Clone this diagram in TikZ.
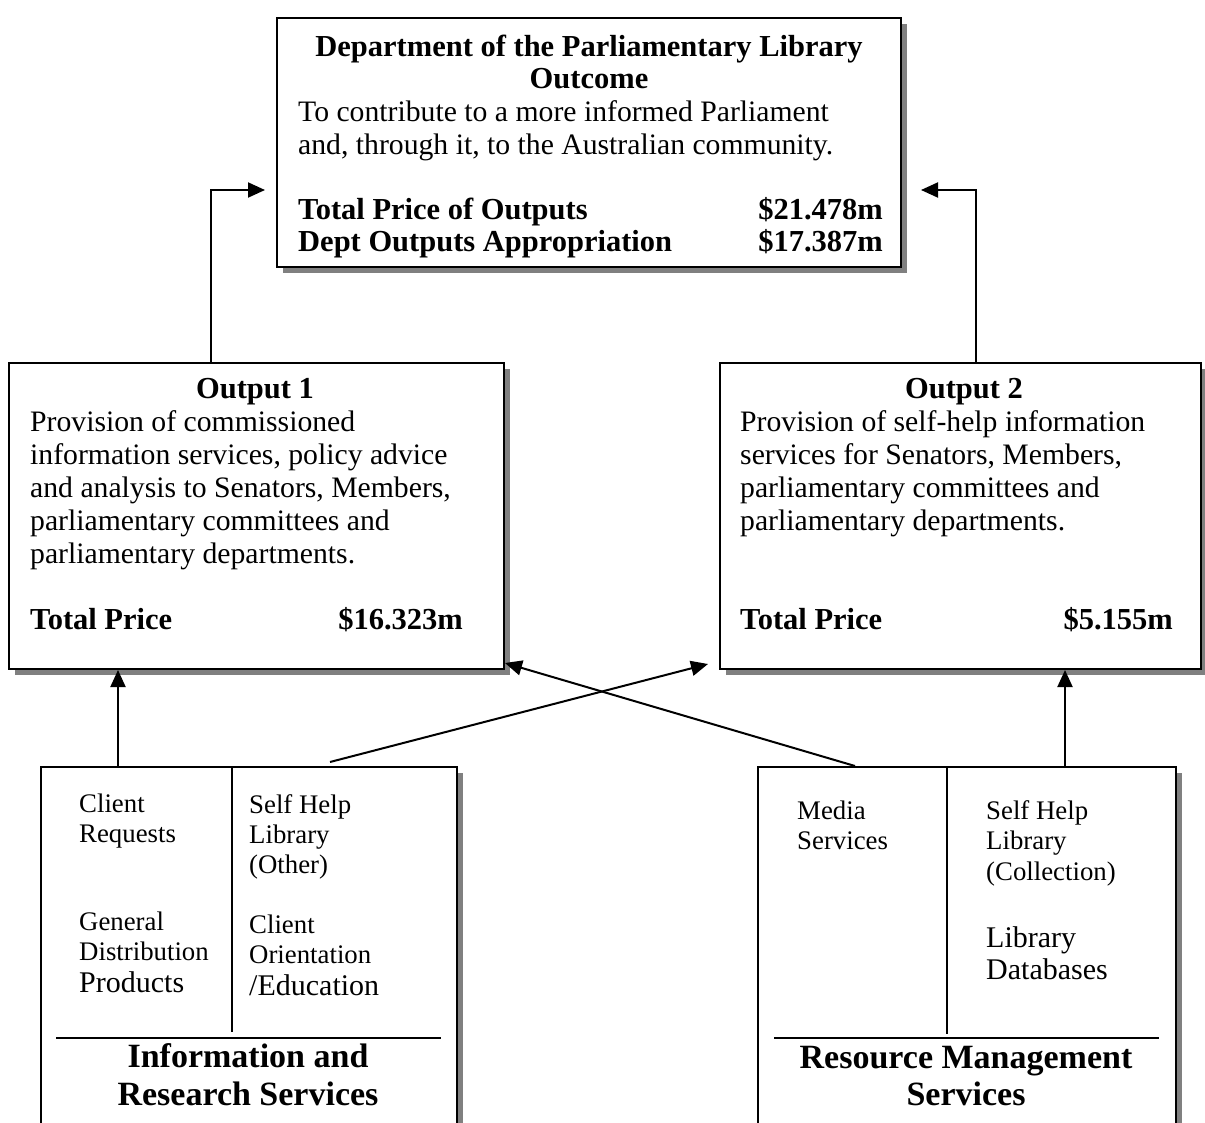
\documentclass[tikz,border=0pt]{standalone}
\usepackage{fontspec}
\setmainfont{Liberation Serif}
\usetikzlibrary{arrows.meta,shadows}
\definecolor{shadowgray}{RGB}{128,128,128}
\begin{document}
\begin{tikzpicture}[x=1pt,y=-1pt,
  box/.style={draw, line width=2pt, fill=white, inner sep=0pt, anchor=north west,
    general shadow={fill=shadowgray, shadow xshift=6pt, shadow yshift=-6pt}},
  arr/.style={line width=2pt, -{Triangle[length=17pt,width=15pt]}},
  ln/.style={line width=2pt},
  body/.style={inner sep=0pt, font=\fontsize{29.7}{33}\selectfont},
  bbody/.style={inner sep=0pt, font=\fontsize{30.5}{33}\selectfont\bfseries},
  small/.style={inner sep=0pt, anchor=base west, font=\fontsize{26.8}{30}\selectfont},
  smallbig/.style={inner sep=0pt, anchor=base west, font=\fontsize{30}{30}\selectfont},
  head/.style={inner sep=0pt, anchor=base, font=\fontsize{34}{38}\selectfont\bfseries}]
\useasboundingbox (0,0) rectangle (1205,1122);
\clip (0,0) rectangle (1205,1122);

% boxes
\node[box, minimum width=624pt, minimum height=249pt] (top) at (276,17) {};
\node[box, minimum width=495pt, minimum height=306pt] (out1) at (8,362) {};
\node[box, minimum width=481pt, minimum height=306pt] (out2) at (719,362) {};
\node[box, minimum width=416pt, minimum height=380pt] (irs) at (40,766) {};
\node[box, minimum width=418pt, minimum height=380pt] (rms) at (757,766) {};

% dividers inside bottom boxes
\draw[ln] ([xshift=192pt]irs.north west) -- ++(0,266);
\draw[ln] (56,1038) -- (441,1038);
\draw[ln] ([xshift=190pt]rms.north west) -- ++(0,268);
\draw[ln] (774,1038) -- (1159,1038);

% top box text
\node[bbody, anchor=base] (t1) at (589,56) {Department of the Parliamentary Library};
\node[bbody, anchor=base] (t2) at (589,88) {Outcome};
\node[body, anchor=base west] (t3) at (298,121) {To contribute to a more informed Parliament};
\node[body, anchor=base west] (t4) at (298,154) {and, through it, to the Australian community.};
\node[bbody, anchor=base west] (t5) at (298,219) {Total Price of Outputs};
\node[bbody, anchor=base east] (t6) at (883,219) {\$21.478m};
\node[bbody, anchor=base west] (t7) at (298,251) {Dept Outputs Appropriation};
\node[bbody, anchor=base east] (t8) at (883,251) {\$17.387m};

% output 1 text
\node[bbody, anchor=base] (a0) at (255,398) {Output 1};
\node[body, anchor=base west] (a1) at (30,431) {Provision of commissioned};
\node[body, anchor=base west] (a2) at (30,464) {information services, policy advice};
\node[body, anchor=base west] (a3) at (30,497) {and analysis to Senators, Members,};
\node[body, anchor=base west] (a4) at (30,530) {parliamentary committees and};
\node[body, anchor=base west] (a5) at (30,563) {parliamentary departments.};
\node[bbody, anchor=base west] (a6) at (30,629) {Total Price};
\node[bbody, anchor=base east] (a7) at (463,629) {\$16.323m};

% output 2 text
\node[bbody, anchor=base] (b0) at (964,398) {Output 2};
\node[body, anchor=base west] (b1) at (740,431) {Provision of self-help information};
\node[body, anchor=base west] (b2) at (740,464) {services for Senators, Members,};
\node[body, anchor=base west] (b3) at (740,497) {parliamentary committees and};
\node[body, anchor=base west] (b4) at (740,530) {parliamentary departments.};
\node[bbody, anchor=base west] (b5) at (740,629) {Total Price};
\node[bbody, anchor=base east] (b6) at (1173,629) {\$5.155m};

% bottom left text
\node[small] (c1) at (79,812) {Client};
\node[small] (c2) at (79,842) {Requests};
\node[small] (c3) at (79,930) {General};
\node[small] (c4) at (79,960) {Distribution};
\node[smallbig] (c5) at (79,992) {Products};
\node[small] (c6) at (249,813) {Self Help};
\node[small] (c7) at (249,843) {Library};
\node[small] (c8) at (249,873) {(Other)};
\node[small] (c9) at (249,933) {Client};
\node[small] (c10) at (249,963) {Orientation};
\node[smallbig] (c11) at (249,995) {/Education};
\node[head] (c12) at (248,1067) {Information and};
\node[head] (c13) at (248,1105) {Research Services};

% bottom right text
\node[small] (d1) at (797,819) {Media};
\node[small] (d2) at (797,849) {Services};
\node[small] (d3) at (986,819) {Self Help};
\node[small] (d4) at (986,849) {Library};
\node[small] (d5) at (986,880) {(Collection)};
\node[smallbig] (d6) at (986,947) {Library};
\node[smallbig] (d7) at (986,979) {Databases};
\node[head] (d8) at (966,1068) {Resource Management};
\node[head] (d9) at (966,1105) {Services};

% connector end points
\coordinate (tipL) at (265,190);
\coordinate (tipR) at (921,190);

% connectors
\draw[arr] ([xshift=-45.5pt]out1.north) |- (tipL);
\draw[arr] ([xshift=15.5pt]out2.north) |- (tipR);
\draw[arr] ([xshift=78pt]irs.north west) -- ([xshift=78pt]irs.north west |- out1.south);
\draw[arr] ([xshift=308pt]rms.north west) -- ([xshift=308pt]rms.north west |- out2.south);
\draw[arr] ([xshift=290pt,yshift=4pt]irs.north west) -- ([xshift=-11pt,yshift=6pt]out2.south west);
\draw[arr] ([xshift=98pt]rms.north west) -- ([yshift=7pt]out1.south east);
\end{tikzpicture}
\end{document}
